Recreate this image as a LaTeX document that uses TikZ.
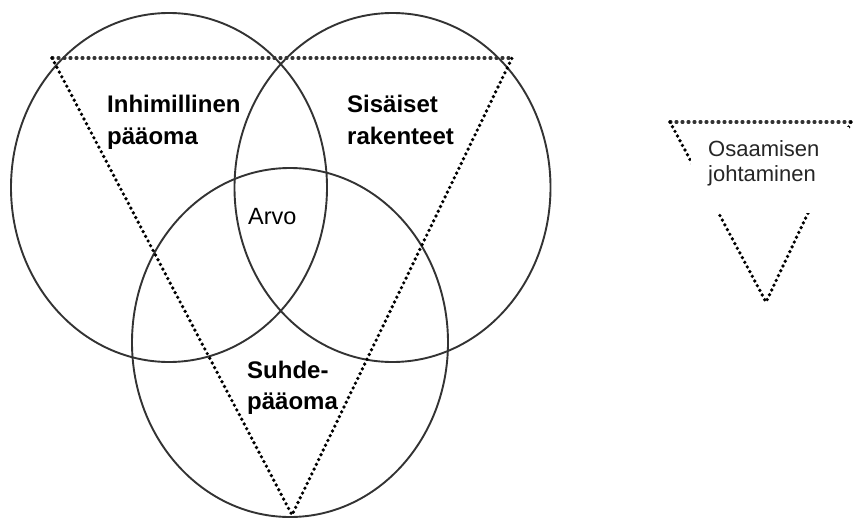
\documentclass[tikz,border=0pt]{standalone}
\usepackage{fontspec}
\setmainfont{Liberation Sans}
\usetikzlibrary{shapes.geometric}
\begin{document}
\begin{tikzpicture}[x=1pt,y=-1pt,
  ring/.style={draw=black!80, line width=1.9pt, ellipse, inner sep=0pt,
    minimum width=316pt, minimum height=349pt},
  sidedots/.style={line width=3.7pt, line cap=round, dash pattern=on 0pt off 5.3pt, black},
  topdots/.style={line width=3.1pt, line cap=round, dash pattern=on 1pt off 5pt, black!80},
  biglabel/.style={font=\fontsize{24}{31}\selectfont\bfseries, inner sep=0pt, anchor=base west},
  midlabel/.style={font=\fontsize{23.5}{31}\selectfont, inner sep=0pt, anchor=base west},
  leglabel/.style={font=\fontsize{22}{25}\selectfont, text=black!85, inner sep=0pt, anchor=base west}]
\useasboundingbox (0,0) rectangle (854,519);
\fill[white] (0,0) rectangle (854,519);
% circles
\node[ring] (L) at (169,187.5) {};
\node[ring] (R) at (392.5,187.5) {};
\node[ring] (B) at (290,342.5) {};
% main triangle
\coordinate (tA) at (52,58);
\coordinate (tB) at (512,58);
\coordinate (tC) at (292,515);
\draw[topdots] (tA) -- (tB);
\draw[sidedots] (tA) -- (tC) -- (tB);
% labels
\node[biglabel] (ih1) at (107,112) {Inhimillinen};
\node[biglabel] (ih2) at (107,144) {pääoma};
\node[biglabel] (sr1) at (347,112) {Sisäiset};
\node[biglabel] (sr2) at (347,144) {rakenteet};
\node[midlabel] (arvo) at (248,224) {Arvo};
\node[biglabel] (sp1) at (247,378) {Suhde-};
\node[biglabel] (sp2) at (247,409) {pääoma};
% legend
\coordinate (lA) at (670,122);
\coordinate (lB) at (851,122);
\coordinate (lC) at (766,302);
\draw[topdots] (lA) -- (lB);
\draw[sidedots] (lA) -- (lC) -- (lB);
\node[fill=white, inner sep=0pt, minimum width=158pt, minimum height=86pt, anchor=north west] (legbox) at (691,127) {};
\node[leglabel] (lg1) at (708,156) {Osaamisen};
\node[leglabel] (lg2) at (708,181) {johtaminen};
\end{tikzpicture}
\end{document}
